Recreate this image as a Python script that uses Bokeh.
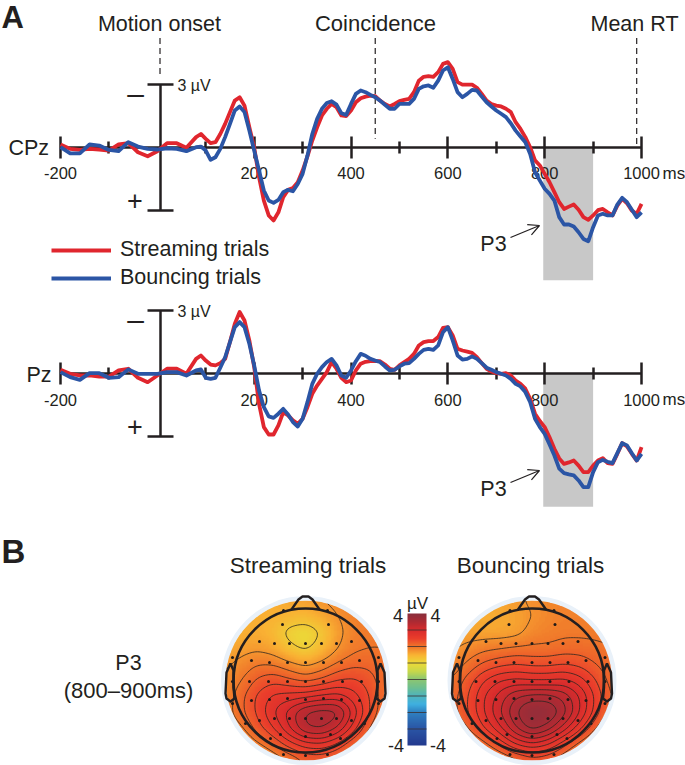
import numpy as np
from bokeh.core.properties import value
from bokeh.embed import file_html
from bokeh.models import (Arrow, FixedTicker, Legend, LegendItem, LinearAxis, LinearColorMapper,
                          OpenHead, Range1d)
from bokeh.plotting import figure
from bokeh.resources import INLINE

TIME_MS = [-200,-180,-160,-140,-120,-100,-80,-60,-40,-20,0,20,40,60,80,90,100,110,120,140,160,170,180,190,
           200,210,220,230,240,250,260,270,280,290,300,320,340,360,380,400,420,440,460,480,500,520,540,560,
           580,590,600,610,620,630,640,660,680,700,720,740,760,780,800,820,840,860,880,890,900,920,940,960,
           980,990,1000]

CPZ_STREAMING = [-.13,.08,.13,.08,.11,.16,-.13,-.19,.24,.43,.19,-.19,-.19,.03,-.48,-.63,-.40,-.19,-.24,-1.11,
                 -2.22,-2.38,-1.98,-.95,0,1.43,2.54,3.25,3.49,3.10,2.38,2.03,1.94,1.67,1.11,-.32,-1.51,-2.06,
                 -1.51,-1.75,-2.33,-2.46,-2.22,-1.94,-2.19,-2.30,-3.17,-3.38,-3.57,-3.97,-4.05,-3.73,-3.10,
                 -2.98,-2.98,-2.83,-2.22,-1.98,-1.83,-1.19,-.48,.63,1.27,2.14,2.94,2.73,3.33,3.46,3.25,2.94,
                 3.25,2.46,3.02,3.17,2.70]
CPZ_BOUNCING = [0,.29,.29,-.13,-.08,.13,.19,-.24,-.03,.08,.11,.05,.08,.19,0,-.03,.16,.60,.48,-.48,-1.75,-1.94,
                -1.67,-.79,.16,1.11,2.06,2.54,2.65,2.51,2.14,2.03,2.10,1.75,1.27,-.63,-1.83,-2.19,-1.62,-2.06,
                -2.70,-2.49,-2.22,-1.83,-2.06,-2.06,-2.78,-2.94,-3.17,-3.65,-3.81,-3.25,-2.62,-2.38,-2.54,
                -2.70,-2.14,-1.75,-1.43,-.79,-.24,1.19,1.98,2.54,3.68,3.78,4.37,4.48,3.81,3.17,3.25,2.41,
                2.98,3.33,3.10]
PZ_STREAMING = [-.19,0,.08,.08,.13,.13,-.16,-.24,.19,.40,.08,-.24,-.24,0,-.71,-.87,-.63,-.44,-.40,-.71,-2.38,
                -2.94,-2.54,-1.59,-.32,1.43,2.54,2.89,2.89,2.46,1.83,1.98,2.22,2.38,2.14,.95,.24,-.56,.19,.32,
                -.48,-.60,-.60,-.24,-.40,-.71,-1.35,-1.56,-1.75,-2.19,-2.22,-1.83,-1.19,-1.11,-1.06,-.79,-.24,
                -.03,-.03,.32,.71,1.90,2.54,3.57,4.29,4.13,4.68,4.68,4.37,4.02,4.29,3.30,3.81,4.13,3.49]
PZ_BOUNCING = [-.08,.16,.29,-.03,-.03,.19,.16,-.21,0,0,0,-.08,-.08,.08,-.16,-.21,.19,.24,.19,-.79,-2.22,-2.46,
               -2.22,-1.43,-.40,.79,1.59,2.03,2.10,1.90,1.67,1.94,2.30,2.51,2.14,.48,-.32,-.71,.08,-.16,-.95,
               -.71,-.56,-.16,-.35,-.51,-.95,-1.19,-1.35,-1.98,-2.22,-1.59,-.87,-.68,-.71,-.71,-.29,-.08,.08,
               .48,.87,2.14,2.86,3.89,4.73,4.84,5.40,5.40,4.68,4.10,4.25,3.30,3.78,4.13,3.81]

# further readings, between the times above, where the traces bend most
TIME_MS_2 = [130,150,310,330,350,370,390,410,430,450,470,490,510,530,550,570,650,670,690,710,730,750,770,790,810,830,
             850,870,910,930,950,970]
CPZ_STREAMING_2 = [-.63,-1.67,.44,-.95,-1.83,-1.90,-1.48,-2.14,-2.41,-2.43,-2.06,-2.06,-2.25,-2.62,-3.35,-3.35,-2.98,
                   -2.54,-2.06,-1.94,-1.67,-.87,0,.87,1.67,2.62,2.83,2.98,3.00,3.10,2.78,2.67]
CPZ_BOUNCING_2 = [.08,-1.11,.40,-1.35,-2.10,-2.03,-1.54,-2.54,-2.62,-2.38,-2.02,-1.83,-2.06,-2.30,-2.90,-2.83,-2.73,
                  -2.41,-1.94,-1.59,-1.14,-.51,.32,1.59,2.22,3.33,3.68,4.05,3.25,3.25,2.73,2.62]
PZ_STREAMING_2 = [-.51,-1.51,1.59,.56,-.08,-.24,.40,-.16,-.57,-.60,-.44,-.19,-.56,-.95,-1.51,-1.56,-1.00,-.51,-.11,0,
                  .08,.48,1.19,2.25,3.02,4.03,4.22,4.37,4.13,4.25,3.81,3.46]
PZ_BOUNCING_2 = [-.29,-1.51,1.35,0,-.56,-.40,.19,-.60,-.86,-.63,-.35,-.19,-.48,-.71,-1.14,-1.14,-.83,-.51,-.19,0,.24,
                 .60,1.35,2.54,3.37,4.52,4.79,5.08,4.21,4.19,3.78,3.41]

MAJOR_TICKS = [-200, 200, 400, 600, 800, 1000]
MINOR_TICKS = [-100, 100, 300, 500, 700, 900]
EVENTS_MS = [5.5, 450, 990]
EVENT_TOP_UV = [-5.2, -5.2, -5.2]
EVENT_BOTTOM_UV = [-3.4, -0.4, 0.0]
P3_WINDOW = [797, 900]
P3_DEPTH_UV = 6.33

# potential maps, read on a 16 px lattice over each head (top row first)
TOPO_STREAMING = [
    [1.5,1.5,1.5,1.55,1.6,1.65,1.75,1.85,1.9,1.9,1.9],
    [1.5,1.5,1.5,1.5,1.45,1.4,1.55,1.75,1.9,1.95,1.95],
    [1.5,1.5,1.55,1.4,1.05,0.95,1.2,1.65,1.9,1.95,1.95],
    [1.55,1.65,1.7,1.6,1.3,1.1,1.4,1.75,1.95,2.0,2.0],
    [1.7,1.85,2.0,2.0,1.85,1.7,1.85,2.05,2.15,2.15,2.05],
    [1.8,2.0,2.25,2.35,2.25,2.15,2.25,2.4,2.45,2.3,2.05],
    [1.85,2.15,2.45,2.65,2.7,2.75,2.85,2.9,2.7,2.4,2.05],
    [1.9,2.15,2.45,2.8,3.1,3.45,3.55,3.5,2.95,2.4,2.0],
    [1.8,1.95,2.3,2.6,3.0,3.4,3.45,3.2,2.7,2.2,1.8],
    [1.5,1.7,1.95,2.2,2.5,2.7,2.75,2.55,2.2,1.9,1.6],
    [1.3,1.4,1.5,1.8,2.0,2.2,2.2,2.1,1.8,1.5,1.3],
]
TOPO_BOUNCING = [
    [1.55,1.55,1.55,1.6,1.7,1.8,1.85,1.9,1.9,1.9,1.9],
    [1.55,1.55,1.55,1.55,1.6,1.75,1.85,1.9,1.9,1.9,1.9],
    [1.6,1.6,1.6,1.6,1.65,1.85,1.9,1.95,1.95,1.95,1.95],
    [1.7,1.85,1.95,2.0,2.05,2.05,2.05,2.1,2.1,2.05,2.0],
    [1.85,2.05,2.25,2.35,2.4,2.35,2.35,2.4,2.35,2.2,2.05],
    [2.0,2.3,2.6,2.8,2.85,2.8,2.8,2.85,2.7,2.4,2.1],
    [2.1,2.4,2.8,3.1,3.4,3.5,3.5,3.35,3.0,2.55,2.15],
    [2.1,2.4,2.8,3.2,3.6,3.9,3.85,3.5,3.0,2.5,2.05],
    [1.9,2.2,2.6,2.95,3.4,3.7,3.5,3.1,2.65,2.2,1.8],
    [1.5,1.8,2.1,2.45,2.8,2.95,2.8,2.45,2.1,1.8,1.5],
    [1.3,1.5,1.7,1.9,2.1,2.25,2.2,2.0,1.7,1.4,1.2],
]
ELECTRODE_DX = [-23,23,-46,-31,-16,0,16,31,46,-54,-36,-18,0,18,36,54,-56,-37,-18,0,18,37,56,-54,-36,-18,0,18,36,
                54,-46,-31,-16,0,16,31,46,-25,25,0,-73,73,-73,73,-73,73,-60,59,-35,35,-22,22,0,-22,22]
ELECTRODE_DY = [-56,-56,-39,-37,-37,-37,-37,-37,-39,-20,-18,-18,-18,-18,-18,-20,1,1,1,1,1,1,1,20,19,18,19,18,19,
                20,40,38,38,38,38,38,40,54,54,56,-23,-23,1,1,23,23,43,43,58,58,-70,-70,75,74,74]
NOSE_DX = [-14,-7,-3,3,7,14]
NOSE_DY = [-71,-81,-84,-84,-81,-71]
EAR_DX = [-75,-79,-80,-79,-75,-71,-72,-72,-75]
EAR_DY = [-17,-8,13,18,21,18,7,-10,-17]

CBAR_STOPS = [-4,-3,-2,-1.5,-1,-.5,0,.5,1,1.5,2,2.5,3,3.5,4]
CBAR_COLORS = ["#233a8f","#2a55a5","#2f80c0","#3fb0e0","#4fb4bd","#6dbf8f","#8cc672","#c8d84a","#ecd938","#f9b233",
               "#f0762a","#ea3d2b","#d82b2c","#ad2a33","#8a2f3c"]
CBAR_LINES = [-3,-2,-1,0,1,2,3]
CONTOUR_LEVELS = [1.2,1.75,2.0,2.2,2.4,2.6,2.8,3.0,3.2,3.4,3.6]

INK = "#231f20"
RED = "#e0262e"
BLUE = "#2b55a5"
FONT = value("Liberation Sans")

W, H, OFF = 685, 765, 0
MS_X0, PX_PER_MS = 60.0, 0.4842
PX_PER_UV = 21.0
ZERO_CPZ, ZERO_PZ = 146.7, 373.3
HEADS = [(305.0, TOPO_STREAMING), (531.5, TOPO_BOUNCING)]
HEAD_CY = 680.0

def ms(px):
    return (px - MS_X0) / PX_PER_MS - 200

def uv_range(zero):
    return Range1d((OFF + H - zero) / PX_PER_UV, (OFF - zero) / PX_PER_UV)

def merged(a, b):
    order = np.argsort(TIME_MS + TIME_MS_2)
    return list(np.array(a + b)[order])

p = figure(width=W, height=H, output_backend="svg", toolbar_location=None, min_border=0,
           x_range=Range1d(OFF, OFF + W), y_range=Range1d(OFF + H, OFF), x_axis_type=None, y_axis_type=None)
p.outline_line_color = None
p.grid.visible = False
p.background_fill_color = "white"
p.extra_x_ranges = {"ms": Range1d(ms(OFF), ms(OFF + W))}
CB_PX = 132 / 8
p.extra_y_ranges = {"cpz": uv_range(ZERO_CPZ), "pz": uv_range(ZERO_PZ),
                    "head": Range1d(HEAD_CY - OFF - H, HEAD_CY - OFF),
                    "cbar": Range1d(-4 - (OFF + H - 745) / CB_PX, 4 + (613 - OFF) / CB_PX)}

mapper = LinearColorMapper(palette=[
    "#%02x%02x%02x" % tuple(int(round(np.interp(v, CBAR_STOPS, [int(c[i:i+2], 16) for c in CBAR_COLORS]))) for i in (1, 3, 5))
    for v in np.linspace(-4, 4, 256)], low=-4, high=4, nan_color="#ffffff")

# ERP panels
times = merged(TIME_MS, TIME_MS_2)
legend_items = []
for rng, red, blue in (("cpz", merged(CPZ_STREAMING, CPZ_STREAMING_2), merged(CPZ_BOUNCING, CPZ_BOUNCING_2)),
                       ("pz", merged(PZ_STREAMING, PZ_STREAMING_2), merged(PZ_BOUNCING, PZ_BOUNCING_2))):
    p.quad(left=[P3_WINDOW[0]], right=[P3_WINDOW[1]], top=[0], bottom=[P3_DEPTH_UV], fill_color="#c8c8c8",
           line_color=None, x_range_name="ms", y_range_name=rng, level="image")
    xax = LinearAxis(x_range_name="ms", y_range_name=rng, fixed_location=0, bounds=(-200, 1000),
                     ticker=FixedTicker(ticks=MAJOR_TICKS, minor_ticks=MINOR_TICKS), level="underlay",
                     major_label_overrides={t: str(t) for t in MAJOR_TICKS})
    xax.axis_line_color = xax.major_tick_line_color = xax.minor_tick_line_color = INK
    xax.axis_line_width = xax.major_tick_line_width = xax.minor_tick_line_width = 2.5
    xax.major_tick_in = xax.major_tick_out = 11
    xax.minor_tick_in = xax.minor_tick_out = 6
    xax.major_label_standoff = 9
    xax.major_label_text_font = "Liberation Sans"
    xax.major_label_text_font_size = "16.5px"
    xax.major_label_text_color = INK
    p.add_layout(xax, "below")
    yax = LinearAxis(x_range_name="ms", y_range_name=rng, fixed_location=EVENTS_MS[0], bounds=(-3, 3),
                     ticker=FixedTicker(ticks=[-3, 3]), level="underlay")
    yax.axis_line_color = yax.major_tick_line_color = INK
    yax.axis_line_width = yax.major_tick_line_width = 2.5
    yax.major_tick_in = yax.major_tick_out = 13
    yax.minor_tick_line_color = None
    yax.major_label_text_color = None
    p.add_layout(yax, "left")
    r1 = p.line(times, red, line_color=RED, line_width=3.8, line_join="round", x_range_name="ms", y_range_name=rng)
    r2 = p.line(times, blue, line_color=BLUE, line_width=3.8, line_join="round", x_range_name="ms", y_range_name=rng)
    if rng == "cpz":
        legend_items = [LegendItem(label="Streaming trials", renderers=[r1]),
                        LegendItem(label="Bouncing trials", renderers=[r2])]

p.segment(EVENTS_MS, EVENT_TOP_UV, EVENTS_MS, EVENT_BOTTOM_UV, line_color=INK, line_width=1.2, line_dash="6 4",
          x_range_name="ms", y_range_name="cpz", level="underlay")

legend = Legend(items=legend_items, location=(51, 475), orientation="vertical", glyph_width=60, glyph_height=20,
                label_height=20, spacing=3, label_standoff=9, padding=0, margin=0, border_line_color=None,
                background_fill_alpha=0, label_text_font="Liberation Sans", label_text_font_size="21.5px",
                label_text_color=INK)
p.add_layout(legend, "center")

for x0, y0, x1, y1 in ((510, 237, 539, 225), (510, 482, 539, 470)):
    p.add_layout(Arrow(x_start=x0, y_start=y0, x_end=x1, y_end=y1, line_color=INK, line_width=1.2,
                       end=OpenHead(size=11, line_color=INK, line_width=1.2)))

# topographies
def smooth_up(z, k=10, passes=2):
    z = np.asarray(z, float)
    n = z.shape[0]
    fine = np.linspace(0, n - 1, (n - 1) * k + 1)
    a = np.array([np.interp(fine, np.arange(n), row) for row in z])
    a = np.array([np.interp(fine, np.arange(n), col) for col in a.T]).T
    ker = np.ones(7) / 7
    for _ in range(passes):
        pad = np.pad(a, 8, mode="edge")
        pad = np.apply_along_axis(lambda m: np.convolve(m, ker, mode="same"), 0, pad)
        pad = np.apply_along_axis(lambda m: np.convolve(m, ker, mode="same"), 1, pad)
        a = pad[8:-8, 8:-8]
    return a

for i, (cx, grid) in enumerate(HEADS):
    z = smooth_up(grid)
    off = np.linspace(-80, 80, z.shape[0])
    xx, yy = np.meshgrid(off, off)
    z = np.where(xx**2 + yy**2 <= 82.0**2, z, np.nan)
    name = f"h{i}"
    p.extra_x_ranges[name] = Range1d(OFF - cx, OFF + W - cx)
    p.image(image=[z[::-1]], x=-80, y=-80, dw=160, dh=160, color_mapper=mapper, x_range_name=name, y_range_name="head")
    c = p.contour(xx + cx, yy + HEAD_CY, z, CONTOUR_LEVELS, line_color="#2a2420", line_width=0.8)
    p.annulus(x=[0], y=[0], inner_radius=80, outer_radius=84.5, fill_color="#e9f1f9", line_color=None,
              x_range_name=name, y_range_name="head")
    p.scatter(ELECTRODE_DX, [-d for d in ELECTRODE_DY], size=3, marker="circle", fill_color="#201a18", line_color=None,
              x_range_name=name, y_range_name="head")
    p.circle(x=[0], y=[0], radius=72, fill_color=None, line_color="#231f20", line_width=2.6,
             x_range_name=name, y_range_name="head")
    p.line(NOSE_DX, [-d for d in NOSE_DY], line_color="#231f20", line_width=2.4, line_join="round",
           x_range_name=name, y_range_name="head")
    for s in (1, -1):
        p.line([s * d for d in EAR_DX], [-d for d in EAR_DY], line_color="#231f20", line_width=2.4, line_join="round",
               x_range_name=name, y_range_name="head")

# colour bar
bar = np.linspace(-4, 4, 256).reshape(-1, 1)
p.extra_x_ranges["bar"] = Range1d(OFF - 407, OFF + W - 407)
p.image(image=[bar], x=0, y=-4, dw=19, dh=8, color_mapper=mapper, x_range_name="bar", y_range_name="cbar")
p.segment([0] * len(CBAR_LINES), CBAR_LINES, [19] * len(CBAR_LINES), CBAR_LINES, line_color="#3a3030", line_width=0.8,
          x_range_name="bar", y_range_name="cbar")

def label(x, y, text, size, align="left", weight="normal"):
    p.text(x=[x], y=[y], text=[text], text_font=FONT, text_font_size=f"{size}px", text_color=INK, text_align=align,
           text_baseline="middle", text_font_style=weight)

label(1, 17, "A", 31, weight="bold")
label(1, 551, "B", 33, weight="bold")
label(159, 23, "Motion onset", 21.5, "center")
label(375, 23, "Coincidence", 22, "center")
label(634, 23, "Mean RT", 21.5, "center")
label(8, 147, "CPz", 21.5)
label(26, 374, "Pz", 21.5)
label(177, 85, "3 µV", 16)
label(177, 311, "3 µV", 16)
for zero in (ZERO_CPZ, ZERO_PZ):
    label(135, zero - 54, "–", 30, "center")
    label(134.5, zero + 53, "+", 27, "center")
    label(662, zero + 26, "ms", 17)
label(493, 243, "P3", 21.5, "center")
label(493, 488, "P3", 21.5, "center")
label(307.5, 565, "Streaming trials", 22.5, "center")
label(530, 565, "Bouncing trials", 22.5, "center")
label(128, 662, "P3", 21.5, "center")
label(128, 690, "(800–900ms)", 22, "center")
label(417, 603, "µV", 17, "center")
label(397.5, 615, "4", 18, "center")
label(435, 615, "4", 18, "center")
label(395.5, 745, "-4", 18, "center")
label(437.5, 745, "-4", 18, "center")

open("out.html", "w").write(file_html(p, INLINE))
